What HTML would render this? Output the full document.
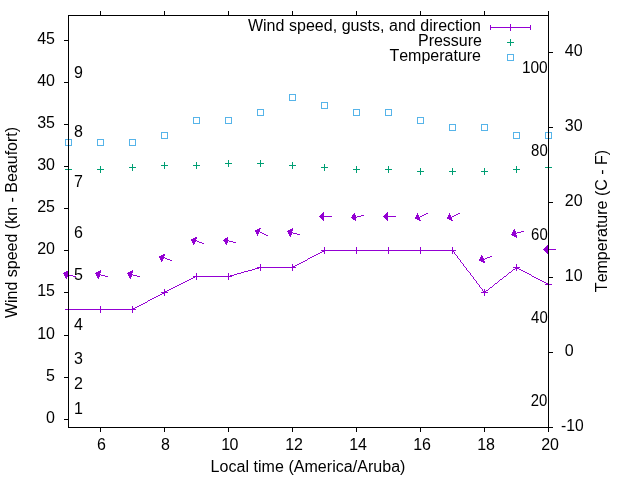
<!DOCTYPE html>
<html><head><meta charset="utf-8"><title>Wind forecast</title>
<style>
html,body{margin:0;padding:0;background:#fff;}
body{width:640px;height:480px;overflow:hidden;}
svg{display:block;will-change:transform;mix-blend-mode:multiply;}
text{font-family:"Liberation Sans",sans-serif;font-size:16px;fill:#000;font-kerning:none;}
</style></head>
<body>
<svg width="640" height="480" viewBox="0 0 640 480">
<rect x="0" y="0" width="640" height="480" fill="#ffffff"/>
<g shape-rendering="crispEdges">
<path fill="#9400D3" d="M510 24h1v1h-1zM490 25h1v1h-1zM510 25h1v1h-1zM530 25h1v1h-1zM490 26h1v1h-1zM510 26h1v1h-1zM530 26h1v1h-1zM490 27h41v1h-41zM490 28h1v1h-1zM510 28h1v1h-1zM530 28h1v1h-1zM490 29h1v1h-1zM510 29h1v1h-1zM530 29h1v1h-1zM510 30h1v1h-1zM323 212h1v1h-1zM387 212h1v1h-1zM322 213h2v1h-2zM354 213h1v1h-1zM386 213h2v1h-2zM417 213h1v1h-1zM426 213h2v1h-2zM449 213h1v1h-1zM458 213h2v1h-2zM321 214h3v1h-3zM353 214h2v1h-2zM385 214h3v1h-3zM417 214h1v1h-1zM424 214h2v1h-2zM449 214h1v1h-1zM456 214h2v1h-2zM320 215h4v1h-4zM352 215h4v1h-4zM361 215h3v1h-3zM384 215h4v1h-4zM416 215h3v1h-3zM422 215h2v1h-2zM448 215h3v1h-3zM454 215h2v1h-2zM319 216h13v1h-13zM352 216h4v1h-4zM357 216h4v1h-4zM383 216h13v1h-13zM416 216h3v1h-3zM420 216h2v1h-2zM448 216h3v1h-3zM452 216h2v1h-2zM320 217h4v1h-4zM351 217h6v1h-6zM384 217h4v1h-4zM415 217h5v1h-5zM447 217h5v1h-5zM321 218h3v1h-3zM352 218h4v1h-4zM385 218h3v1h-3zM415 218h5v1h-5zM447 218h5v1h-5zM322 219h2v1h-2zM353 219h3v1h-3zM386 219h2v1h-2zM417 219h3v1h-3zM449 219h3v1h-3zM323 220h1v1h-1zM355 220h1v1h-1zM387 220h1v1h-1zM419 220h2v1h-2zM451 220h2v1h-2zM259 228h2v1h-2zM292 228h1v1h-1zM257 229h3v1h-3zM290 229h3v1h-3zM514 229h1v1h-1zM255 230h5v1h-5zM288 230h5v1h-5zM513 230h2v1h-2zM255 231h5v1h-5zM287 231h5v1h-5zM513 231h3v1h-3zM521 231h3v1h-3zM256 232h3v1h-3zM260 232h2v1h-2zM288 232h5v1h-5zM512 232h4v1h-4zM517 232h4v1h-4zM256 233h3v1h-3zM262 233h2v1h-2zM288 233h4v1h-4zM293 233h4v1h-4zM512 233h5v1h-5zM257 234h1v1h-1zM264 234h2v1h-2zM289 234h3v1h-3zM297 234h3v1h-3zM511 234h5v1h-5zM257 235h1v1h-1zM266 235h2v1h-2zM289 235h2v1h-2zM512 235h5v1h-5zM290 236h1v1h-1zM514 236h3v1h-3zM195 237h2v1h-2zM227 237h1v1h-1zM516 237h1v1h-1zM193 238h4v1h-4zM225 238h3v1h-3zM191 239h5v1h-5zM224 239h4v1h-4zM191 240h6v1h-6zM223 240h6v1h-6zM192 241h4v1h-4zM197 241h2v1h-2zM224 241h4v1h-4zM229 241h4v1h-4zM192 242h3v1h-3zM199 242h3v1h-3zM225 242h3v1h-3zM233 242h3v1h-3zM193 243h2v1h-2zM202 243h2v1h-2zM225 243h2v1h-2zM193 244h1v1h-1zM226 244h1v1h-1zM547 245h1v1h-1zM546 246h2v1h-2zM324 247h1v1h-1zM356 247h1v1h-1zM388 247h1v1h-1zM420 247h1v1h-1zM452 247h1v1h-1zM545 247h3v1h-3zM324 248h1v1h-1zM356 248h1v1h-1zM388 248h1v1h-1zM420 248h1v1h-1zM452 248h1v1h-1zM544 248h4v1h-4zM324 249h1v1h-1zM356 249h1v1h-1zM388 249h1v1h-1zM420 249h1v1h-1zM452 249h1v1h-1zM543 249h13v1h-13zM321 250h135v1h-135zM544 250h4v1h-4zM322 251h3v1h-3zM356 251h1v1h-1zM388 251h1v1h-1zM420 251h1v1h-1zM452 251h2v1h-2zM545 251h3v1h-3zM320 252h2v1h-2zM324 252h1v1h-1zM356 252h1v1h-1zM388 252h1v1h-1zM420 252h1v1h-1zM452 252h1v1h-1zM454 252h1v1h-1zM546 252h2v1h-2zM318 253h2v1h-2zM324 253h1v1h-1zM356 253h1v1h-1zM388 253h1v1h-1zM420 253h1v1h-1zM452 253h1v1h-1zM454 253h1v1h-1zM547 253h1v1h-1zM163 254h2v1h-2zM316 254h2v1h-2zM455 254h1v1h-1zM161 255h4v1h-4zM314 255h2v1h-2zM456 255h1v1h-1zM481 255h1v1h-1zM159 256h5v1h-5zM312 256h2v1h-2zM457 256h1v1h-1zM481 256h2v1h-2zM490 256h2v1h-2zM159 257h6v1h-6zM310 257h2v1h-2zM457 257h1v1h-1zM480 257h3v1h-3zM487 257h3v1h-3zM160 258h4v1h-4zM165 258h2v1h-2zM308 258h2v1h-2zM458 258h1v1h-1zM480 258h4v1h-4zM485 258h2v1h-2zM160 259h3v1h-3zM167 259h3v1h-3zM307 259h1v1h-1zM459 259h1v1h-1zM479 259h6v1h-6zM161 260h2v1h-2zM170 260h2v1h-2zM305 260h2v1h-2zM460 260h1v1h-1zM479 260h5v1h-5zM161 261h1v1h-1zM303 261h2v1h-2zM460 261h1v1h-1zM481 261h4v1h-4zM301 262h2v1h-2zM461 262h1v1h-1zM483 262h2v1h-2zM299 263h2v1h-2zM462 263h1v1h-1zM260 264h1v1h-1zM292 264h1v1h-1zM297 264h2v1h-2zM463 264h1v1h-1zM516 264h1v1h-1zM260 265h1v1h-1zM292 265h1v1h-1zM295 265h2v1h-2zM463 265h1v1h-1zM516 265h1v1h-1zM260 266h1v1h-1zM292 266h3v1h-3zM464 266h1v1h-1zM516 266h1v1h-1zM257 267h39v1h-39zM465 267h1v1h-1zM513 267h7v1h-7zM255 268h4v1h-4zM260 268h1v1h-1zM292 268h1v1h-1zM466 268h1v1h-1zM515 268h4v1h-4zM252 269h3v1h-3zM260 269h1v1h-1zM292 269h1v1h-1zM466 269h1v1h-1zM513 269h2v1h-2zM516 269h1v1h-1zM519 269h2v1h-2zM68 270h1v1h-1zM100 270h1v1h-1zM132 270h1v1h-1zM248 270h4v1h-4zM260 270h1v1h-1zM292 270h1v1h-1zM467 270h1v1h-1zM512 270h1v1h-1zM516 270h1v1h-1zM521 270h2v1h-2zM66 271h3v1h-3zM98 271h3v1h-3zM130 271h3v1h-3zM244 271h4v1h-4zM468 271h1v1h-1zM511 271h1v1h-1zM523 271h2v1h-2zM64 272h5v1h-5zM96 272h5v1h-5zM128 272h5v1h-5zM241 272h3v1h-3zM469 272h1v1h-1zM509 272h2v1h-2zM525 272h2v1h-2zM63 273h5v1h-5zM95 273h5v1h-5zM127 273h5v1h-5zM196 273h1v1h-1zM228 273h1v1h-1zM237 273h4v1h-4zM470 273h1v1h-1zM508 273h1v1h-1zM527 273h2v1h-2zM64 274h5v1h-5zM96 274h5v1h-5zM128 274h5v1h-5zM196 274h1v1h-1zM228 274h1v1h-1zM234 274h3v1h-3zM470 274h1v1h-1zM507 274h1v1h-1zM529 274h2v1h-2zM64 275h4v1h-4zM69 275h4v1h-4zM96 275h4v1h-4zM101 275h4v1h-4zM128 275h4v1h-4zM133 275h4v1h-4zM196 275h1v1h-1zM228 275h1v1h-1zM230 275h4v1h-4zM471 275h1v1h-1zM506 275h1v1h-1zM531 275h1v1h-1zM65 276h3v1h-3zM73 276h3v1h-3zM97 276h3v1h-3zM105 276h3v1h-3zM129 276h3v1h-3zM137 276h3v1h-3zM193 276h39v1h-39zM472 276h1v1h-1zM504 276h2v1h-2zM532 276h2v1h-2zM65 277h2v1h-2zM97 277h2v1h-2zM129 277h2v1h-2zM193 277h2v1h-2zM196 277h1v1h-1zM228 277h1v1h-1zM473 277h1v1h-1zM503 277h1v1h-1zM534 277h2v1h-2zM66 278h1v1h-1zM98 278h1v1h-1zM130 278h1v1h-1zM191 278h2v1h-2zM196 278h1v1h-1zM228 278h1v1h-1zM473 278h1v1h-1zM502 278h1v1h-1zM536 278h2v1h-2zM189 279h2v1h-2zM196 279h1v1h-1zM228 279h1v1h-1zM474 279h1v1h-1zM500 279h2v1h-2zM538 279h2v1h-2zM187 280h2v1h-2zM475 280h1v1h-1zM499 280h1v1h-1zM540 280h2v1h-2zM185 281h2v1h-2zM476 281h1v1h-1zM498 281h1v1h-1zM542 281h2v1h-2zM548 281h1v1h-1zM183 282h2v1h-2zM476 282h1v1h-1zM497 282h1v1h-1zM544 282h2v1h-2zM548 282h1v1h-1zM181 283h2v1h-2zM477 283h1v1h-1zM495 283h2v1h-2zM546 283h3v1h-3zM179 284h2v1h-2zM478 284h1v1h-1zM494 284h1v1h-1zM545 284h7v1h-7zM177 285h2v1h-2zM479 285h1v1h-1zM493 285h1v1h-1zM548 285h1v1h-1zM175 286h2v1h-2zM479 286h1v1h-1zM492 286h1v1h-1zM548 286h1v1h-1zM173 287h2v1h-2zM480 287h1v1h-1zM490 287h2v1h-2zM548 287h1v1h-1zM171 288h2v1h-2zM481 288h1v1h-1zM489 288h1v1h-1zM164 289h1v1h-1zM169 289h2v1h-2zM482 289h1v1h-1zM484 289h1v1h-1zM488 289h1v1h-1zM164 290h1v1h-1zM167 290h2v1h-2zM482 290h1v1h-1zM484 290h1v1h-1zM486 290h2v1h-2zM164 291h3v1h-3zM483 291h3v1h-3zM161 292h7v1h-7zM481 292h7v1h-7zM162 293h3v1h-3zM484 293h1v1h-1zM160 294h2v1h-2zM164 294h1v1h-1zM484 294h1v1h-1zM158 295h2v1h-2zM164 295h1v1h-1zM484 295h1v1h-1zM156 296h2v1h-2zM154 297h2v1h-2zM152 298h2v1h-2zM150 299h2v1h-2zM148 300h2v1h-2zM147 301h1v1h-1zM145 302h2v1h-2zM143 303h2v1h-2zM141 304h2v1h-2zM139 305h2v1h-2zM68 306h1v1h-1zM100 306h1v1h-1zM132 306h1v1h-1zM137 306h2v1h-2zM68 307h1v1h-1zM100 307h1v1h-1zM132 307h1v1h-1zM135 307h2v1h-2zM68 308h1v1h-1zM100 308h1v1h-1zM132 308h3v1h-3zM65 309h71v1h-71zM68 310h1v1h-1zM100 310h1v1h-1zM132 310h1v1h-1zM68 311h1v1h-1zM100 311h1v1h-1zM132 311h1v1h-1zM68 312h1v1h-1zM100 312h1v1h-1zM132 312h1v1h-1z"/>
<path fill="#009E73" d="M510 39h1v1h-1zM510 40h1v1h-1zM510 41h1v1h-1zM507 42h7v1h-7zM510 43h1v1h-1zM510 44h1v1h-1zM510 45h1v1h-1zM228 160h1v1h-1zM260 160h1v1h-1zM228 161h1v1h-1zM260 161h1v1h-1zM164 162h1v1h-1zM196 162h1v1h-1zM228 162h1v1h-1zM260 162h1v1h-1zM292 162h1v1h-1zM164 163h1v1h-1zM196 163h1v1h-1zM225 163h7v1h-7zM257 163h7v1h-7zM292 163h1v1h-1zM132 164h1v1h-1zM164 164h1v1h-1zM196 164h1v1h-1zM228 164h1v1h-1zM260 164h1v1h-1zM292 164h1v1h-1zM324 164h1v1h-1zM548 164h1v1h-1zM132 165h1v1h-1zM161 165h7v1h-7zM193 165h7v1h-7zM228 165h1v1h-1zM260 165h1v1h-1zM289 165h7v1h-7zM324 165h1v1h-1zM548 165h1v1h-1zM68 166h1v1h-1zM100 166h1v1h-1zM132 166h1v1h-1zM164 166h1v1h-1zM196 166h1v1h-1zM228 166h1v1h-1zM260 166h1v1h-1zM292 166h1v1h-1zM324 166h1v1h-1zM356 166h1v1h-1zM388 166h1v1h-1zM516 166h1v1h-1zM548 166h1v1h-1zM68 167h1v1h-1zM100 167h1v1h-1zM129 167h7v1h-7zM164 167h1v1h-1zM196 167h1v1h-1zM292 167h1v1h-1zM321 167h7v1h-7zM356 167h1v1h-1zM388 167h1v1h-1zM516 167h1v1h-1zM545 167h7v1h-7zM68 168h1v1h-1zM100 168h1v1h-1zM132 168h1v1h-1zM164 168h1v1h-1zM196 168h1v1h-1zM292 168h1v1h-1zM324 168h1v1h-1zM356 168h1v1h-1zM388 168h1v1h-1zM420 168h1v1h-1zM452 168h1v1h-1zM484 168h1v1h-1zM516 168h1v1h-1zM548 168h1v1h-1zM65 169h7v1h-7zM97 169h7v1h-7zM132 169h1v1h-1zM324 169h1v1h-1zM353 169h7v1h-7zM385 169h7v1h-7zM420 169h1v1h-1zM452 169h1v1h-1zM484 169h1v1h-1zM513 169h7v1h-7zM548 169h1v1h-1zM68 170h1v1h-1zM100 170h1v1h-1zM132 170h1v1h-1zM324 170h1v1h-1zM356 170h1v1h-1zM388 170h1v1h-1zM420 170h1v1h-1zM452 170h1v1h-1zM484 170h1v1h-1zM516 170h1v1h-1zM548 170h1v1h-1zM68 171h1v1h-1zM100 171h1v1h-1zM356 171h1v1h-1zM388 171h1v1h-1zM417 171h7v1h-7zM449 171h7v1h-7zM481 171h7v1h-7zM516 171h1v1h-1zM68 172h1v1h-1zM100 172h1v1h-1zM356 172h1v1h-1zM388 172h1v1h-1zM420 172h1v1h-1zM452 172h1v1h-1zM484 172h1v1h-1zM516 172h1v1h-1zM420 173h1v1h-1zM452 173h1v1h-1zM484 173h1v1h-1zM420 174h1v1h-1zM452 174h1v1h-1zM484 174h1v1h-1z"/>
<path fill="#56B4E9" d="M507 54h7v1h-7zM507 55h1v1h-1zM513 55h1v1h-1zM507 56h1v1h-1zM513 56h1v1h-1zM507 57h1v1h-1zM513 57h1v1h-1zM507 58h1v1h-1zM513 58h1v1h-1zM507 59h1v1h-1zM513 59h1v1h-1zM507 60h7v1h-7zM289 94h7v1h-7zM289 95h1v1h-1zM295 95h1v1h-1zM289 96h1v1h-1zM295 96h1v1h-1zM289 97h1v1h-1zM295 97h1v1h-1zM289 98h1v1h-1zM295 98h1v1h-1zM289 99h1v1h-1zM295 99h1v1h-1zM289 100h7v1h-7zM321 102h7v1h-7zM321 103h1v1h-1zM327 103h1v1h-1zM321 104h1v1h-1zM327 104h1v1h-1zM321 105h1v1h-1zM327 105h1v1h-1zM321 106h1v1h-1zM327 106h1v1h-1zM321 107h1v1h-1zM327 107h1v1h-1zM321 108h7v1h-7zM257 109h7v1h-7zM353 109h7v1h-7zM385 109h7v1h-7zM257 110h1v1h-1zM263 110h1v1h-1zM353 110h1v1h-1zM359 110h1v1h-1zM385 110h1v1h-1zM391 110h1v1h-1zM257 111h1v1h-1zM263 111h1v1h-1zM353 111h1v1h-1zM359 111h1v1h-1zM385 111h1v1h-1zM391 111h1v1h-1zM257 112h1v1h-1zM263 112h1v1h-1zM353 112h1v1h-1zM359 112h1v1h-1zM385 112h1v1h-1zM391 112h1v1h-1zM257 113h1v1h-1zM263 113h1v1h-1zM353 113h1v1h-1zM359 113h1v1h-1zM385 113h1v1h-1zM391 113h1v1h-1zM257 114h1v1h-1zM263 114h1v1h-1zM353 114h1v1h-1zM359 114h1v1h-1zM385 114h1v1h-1zM391 114h1v1h-1zM257 115h7v1h-7zM353 115h7v1h-7zM385 115h7v1h-7zM193 117h7v1h-7zM225 117h7v1h-7zM417 117h7v1h-7zM193 118h1v1h-1zM199 118h1v1h-1zM225 118h1v1h-1zM231 118h1v1h-1zM417 118h1v1h-1zM423 118h1v1h-1zM193 119h1v1h-1zM199 119h1v1h-1zM225 119h1v1h-1zM231 119h1v1h-1zM417 119h1v1h-1zM423 119h1v1h-1zM193 120h1v1h-1zM199 120h1v1h-1zM225 120h1v1h-1zM231 120h1v1h-1zM417 120h1v1h-1zM423 120h1v1h-1zM193 121h1v1h-1zM199 121h1v1h-1zM225 121h1v1h-1zM231 121h1v1h-1zM417 121h1v1h-1zM423 121h1v1h-1zM193 122h1v1h-1zM199 122h1v1h-1zM225 122h1v1h-1zM231 122h1v1h-1zM417 122h1v1h-1zM423 122h1v1h-1zM193 123h7v1h-7zM225 123h7v1h-7zM417 123h7v1h-7zM449 124h7v1h-7zM481 124h7v1h-7zM449 125h1v1h-1zM455 125h1v1h-1zM481 125h1v1h-1zM487 125h1v1h-1zM449 126h1v1h-1zM455 126h1v1h-1zM481 126h1v1h-1zM487 126h1v1h-1zM449 127h1v1h-1zM455 127h1v1h-1zM481 127h1v1h-1zM487 127h1v1h-1zM449 128h1v1h-1zM455 128h1v1h-1zM481 128h1v1h-1zM487 128h1v1h-1zM449 129h1v1h-1zM455 129h1v1h-1zM481 129h1v1h-1zM487 129h1v1h-1zM449 130h7v1h-7zM481 130h7v1h-7zM161 132h7v1h-7zM513 132h7v1h-7zM545 132h7v1h-7zM161 133h1v1h-1zM167 133h1v1h-1zM513 133h1v1h-1zM519 133h1v1h-1zM545 133h1v1h-1zM551 133h1v1h-1zM161 134h1v1h-1zM167 134h1v1h-1zM513 134h1v1h-1zM519 134h1v1h-1zM545 134h1v1h-1zM551 134h1v1h-1zM161 135h1v1h-1zM167 135h1v1h-1zM513 135h1v1h-1zM519 135h1v1h-1zM545 135h1v1h-1zM551 135h1v1h-1zM161 136h1v1h-1zM167 136h1v1h-1zM513 136h1v1h-1zM519 136h1v1h-1zM545 136h1v1h-1zM551 136h1v1h-1zM161 137h1v1h-1zM167 137h1v1h-1zM513 137h1v1h-1zM519 137h1v1h-1zM545 137h1v1h-1zM551 137h1v1h-1zM161 138h7v1h-7zM513 138h7v1h-7zM545 138h7v1h-7zM65 139h7v1h-7zM97 139h7v1h-7zM129 139h7v1h-7zM65 140h1v1h-1zM71 140h1v1h-1zM97 140h1v1h-1zM103 140h1v1h-1zM129 140h1v1h-1zM135 140h1v1h-1zM65 141h1v1h-1zM71 141h1v1h-1zM97 141h1v1h-1zM103 141h1v1h-1zM129 141h1v1h-1zM135 141h1v1h-1zM65 142h1v1h-1zM71 142h1v1h-1zM97 142h1v1h-1zM103 142h1v1h-1zM129 142h1v1h-1zM135 142h1v1h-1zM65 143h1v1h-1zM71 143h1v1h-1zM97 143h1v1h-1zM103 143h1v1h-1zM129 143h1v1h-1zM135 143h1v1h-1zM65 144h1v1h-1zM71 144h1v1h-1zM97 144h1v1h-1zM103 144h1v1h-1zM129 144h1v1h-1zM135 144h1v1h-1zM65 145h7v1h-7zM97 145h7v1h-7zM129 145h7v1h-7z"/>
<path fill="#000000" d="M100 11h1v1h-1zM164 11h1v1h-1zM228 11h1v1h-1zM292 11h1v1h-1zM356 11h1v1h-1zM420 11h1v1h-1zM484 11h1v1h-1zM548 11h1v1h-1zM100 12h1v1h-1zM164 12h1v1h-1zM228 12h1v1h-1zM292 12h1v1h-1zM356 12h1v1h-1zM420 12h1v1h-1zM484 12h1v1h-1zM548 12h1v1h-1zM100 13h1v1h-1zM164 13h1v1h-1zM228 13h1v1h-1zM292 13h1v1h-1zM356 13h1v1h-1zM420 13h1v1h-1zM484 13h1v1h-1zM548 13h1v1h-1zM100 14h1v1h-1zM164 14h1v1h-1zM228 14h1v1h-1zM292 14h1v1h-1zM356 14h1v1h-1zM420 14h1v1h-1zM484 14h1v1h-1zM548 14h1v1h-1zM68 15h481v1h-481zM68 16h1v1h-1zM548 16h1v1h-1zM68 17h1v1h-1zM548 17h1v1h-1zM68 18h1v1h-1zM548 18h1v1h-1zM68 19h1v1h-1zM548 19h1v1h-1zM68 20h1v1h-1zM548 20h1v1h-1zM68 21h1v1h-1zM548 21h1v1h-1zM68 22h1v1h-1zM548 22h1v1h-1zM68 23h1v1h-1zM548 23h1v1h-1zM68 24h1v1h-1zM548 24h1v1h-1zM68 25h1v1h-1zM548 25h1v1h-1zM68 26h1v1h-1zM548 26h1v1h-1zM68 27h1v1h-1zM548 27h1v1h-1zM68 28h1v1h-1zM548 28h1v1h-1zM68 29h1v1h-1zM548 29h1v1h-1zM68 30h1v1h-1zM548 30h1v1h-1zM68 31h1v1h-1zM548 31h1v1h-1zM68 32h1v1h-1zM548 32h1v1h-1zM68 33h1v1h-1zM548 33h1v1h-1zM68 34h1v1h-1zM548 34h1v1h-1zM68 35h1v1h-1zM548 35h1v1h-1zM68 36h1v1h-1zM548 36h1v1h-1zM68 37h1v1h-1zM548 37h1v1h-1zM68 38h1v1h-1zM548 38h1v1h-1zM68 39h1v1h-1zM548 39h1v1h-1zM64 40h5v1h-5zM548 40h1v1h-1zM68 41h1v1h-1zM548 41h1v1h-1zM68 42h1v1h-1zM548 42h1v1h-1zM68 43h1v1h-1zM548 43h1v1h-1zM68 44h1v1h-1zM548 44h1v1h-1zM68 45h1v1h-1zM548 45h1v1h-1zM68 46h1v1h-1zM548 46h1v1h-1zM68 47h1v1h-1zM548 47h1v1h-1zM68 48h1v1h-1zM548 48h1v1h-1zM68 49h1v1h-1zM548 49h1v1h-1zM68 50h1v1h-1zM548 50h1v1h-1zM68 51h1v1h-1zM548 51h1v1h-1zM68 52h1v1h-1zM548 52h5v1h-5zM68 53h1v1h-1zM548 53h1v1h-1zM68 54h1v1h-1zM548 54h1v1h-1zM68 55h1v1h-1zM548 55h1v1h-1zM68 56h1v1h-1zM548 56h1v1h-1zM68 57h1v1h-1zM548 57h1v1h-1zM68 58h1v1h-1zM548 58h1v1h-1zM68 59h1v1h-1zM548 59h1v1h-1zM68 60h1v1h-1zM548 60h1v1h-1zM68 61h1v1h-1zM548 61h1v1h-1zM68 62h1v1h-1zM548 62h1v1h-1zM68 63h1v1h-1zM548 63h1v1h-1zM68 64h1v1h-1zM548 64h1v1h-1zM68 65h1v1h-1zM548 65h1v1h-1zM68 66h1v1h-1zM548 66h1v1h-1zM68 67h1v1h-1zM548 67h1v1h-1zM68 68h1v1h-1zM548 68h1v1h-1zM68 69h1v1h-1zM548 69h1v1h-1zM68 70h1v1h-1zM548 70h1v1h-1zM68 71h1v1h-1zM548 71h1v1h-1zM68 72h1v1h-1zM548 72h1v1h-1zM68 73h1v1h-1zM548 73h1v1h-1zM68 74h1v1h-1zM548 74h1v1h-1zM68 75h1v1h-1zM548 75h1v1h-1zM68 76h1v1h-1zM548 76h1v1h-1zM68 77h1v1h-1zM548 77h1v1h-1zM68 78h1v1h-1zM548 78h1v1h-1zM68 79h1v1h-1zM548 79h1v1h-1zM68 80h1v1h-1zM548 80h1v1h-1zM68 81h1v1h-1zM548 81h1v1h-1zM64 82h5v1h-5zM548 82h1v1h-1zM68 83h1v1h-1zM548 83h1v1h-1zM68 84h1v1h-1zM548 84h1v1h-1zM68 85h1v1h-1zM548 85h1v1h-1zM68 86h1v1h-1zM548 86h1v1h-1zM68 87h1v1h-1zM548 87h1v1h-1zM68 88h1v1h-1zM548 88h1v1h-1zM68 89h1v1h-1zM548 89h1v1h-1zM68 90h1v1h-1zM548 90h1v1h-1zM68 91h1v1h-1zM548 91h1v1h-1zM68 92h1v1h-1zM548 92h1v1h-1zM68 93h1v1h-1zM548 93h1v1h-1zM68 94h1v1h-1zM548 94h1v1h-1zM68 95h1v1h-1zM548 95h1v1h-1zM68 96h1v1h-1zM548 96h1v1h-1zM68 97h1v1h-1zM548 97h1v1h-1zM68 98h1v1h-1zM548 98h1v1h-1zM68 99h1v1h-1zM548 99h1v1h-1zM68 100h1v1h-1zM548 100h1v1h-1zM68 101h1v1h-1zM548 101h1v1h-1zM68 102h1v1h-1zM548 102h1v1h-1zM68 103h1v1h-1zM548 103h1v1h-1zM68 104h1v1h-1zM548 104h1v1h-1zM68 105h1v1h-1zM548 105h1v1h-1zM68 106h1v1h-1zM548 106h1v1h-1zM68 107h1v1h-1zM548 107h1v1h-1zM68 108h1v1h-1zM548 108h1v1h-1zM68 109h1v1h-1zM548 109h1v1h-1zM68 110h1v1h-1zM548 110h1v1h-1zM68 111h1v1h-1zM548 111h1v1h-1zM68 112h1v1h-1zM548 112h1v1h-1zM68 113h1v1h-1zM548 113h1v1h-1zM68 114h1v1h-1zM548 114h1v1h-1zM68 115h1v1h-1zM548 115h1v1h-1zM68 116h1v1h-1zM548 116h1v1h-1zM68 117h1v1h-1zM548 117h1v1h-1zM68 118h1v1h-1zM548 118h1v1h-1zM68 119h1v1h-1zM548 119h1v1h-1zM68 120h1v1h-1zM548 120h1v1h-1zM68 121h1v1h-1zM548 121h1v1h-1zM68 122h1v1h-1zM548 122h1v1h-1zM68 123h1v1h-1zM548 123h1v1h-1zM64 124h5v1h-5zM548 124h1v1h-1zM68 125h1v1h-1zM548 125h1v1h-1zM68 126h1v1h-1zM548 126h1v1h-1zM68 127h1v1h-1zM548 127h5v1h-5zM68 128h1v1h-1zM548 128h1v1h-1zM68 129h1v1h-1zM548 129h1v1h-1zM68 130h1v1h-1zM548 130h1v1h-1zM68 131h1v1h-1zM548 131h1v1h-1zM68 132h1v1h-1zM548 132h1v1h-1zM68 133h1v1h-1zM548 133h1v1h-1zM68 134h1v1h-1zM548 134h1v1h-1zM68 135h1v1h-1zM548 135h1v1h-1zM68 136h1v1h-1zM548 136h1v1h-1zM68 137h1v1h-1zM548 137h1v1h-1zM68 138h1v1h-1zM548 138h1v1h-1zM68 139h1v1h-1zM548 139h1v1h-1zM68 140h1v1h-1zM548 140h1v1h-1zM68 141h1v1h-1zM548 141h1v1h-1zM68 142h1v1h-1zM548 142h1v1h-1zM68 143h1v1h-1zM548 143h1v1h-1zM68 144h1v1h-1zM548 144h1v1h-1zM68 145h1v1h-1zM548 145h1v1h-1zM68 146h1v1h-1zM548 146h1v1h-1zM68 147h1v1h-1zM548 147h1v1h-1zM68 148h1v1h-1zM548 148h1v1h-1zM68 149h1v1h-1zM548 149h1v1h-1zM68 150h1v1h-1zM548 150h1v1h-1zM68 151h1v1h-1zM548 151h1v1h-1zM68 152h1v1h-1zM548 152h1v1h-1zM68 153h1v1h-1zM548 153h1v1h-1zM68 154h1v1h-1zM548 154h1v1h-1zM68 155h1v1h-1zM548 155h1v1h-1zM68 156h1v1h-1zM548 156h1v1h-1zM68 157h1v1h-1zM548 157h1v1h-1zM68 158h1v1h-1zM548 158h1v1h-1zM68 159h1v1h-1zM548 159h1v1h-1zM68 160h1v1h-1zM548 160h1v1h-1zM68 161h1v1h-1zM548 161h1v1h-1zM68 162h1v1h-1zM548 162h1v1h-1zM68 163h1v1h-1zM548 163h1v1h-1zM68 164h1v1h-1zM548 164h1v1h-1zM68 165h1v1h-1zM548 165h1v1h-1zM64 166h5v1h-5zM548 166h1v1h-1zM68 167h1v1h-1zM548 167h1v1h-1zM68 168h1v1h-1zM548 168h1v1h-1zM68 169h1v1h-1zM548 169h1v1h-1zM68 170h1v1h-1zM548 170h1v1h-1zM68 171h1v1h-1zM548 171h1v1h-1zM68 172h1v1h-1zM548 172h1v1h-1zM68 173h1v1h-1zM548 173h1v1h-1zM68 174h1v1h-1zM548 174h1v1h-1zM68 175h1v1h-1zM548 175h1v1h-1zM68 176h1v1h-1zM548 176h1v1h-1zM68 177h1v1h-1zM548 177h1v1h-1zM68 178h1v1h-1zM548 178h1v1h-1zM68 179h1v1h-1zM548 179h1v1h-1zM68 180h1v1h-1zM548 180h1v1h-1zM68 181h1v1h-1zM548 181h1v1h-1zM68 182h1v1h-1zM548 182h1v1h-1zM68 183h1v1h-1zM548 183h1v1h-1zM68 184h1v1h-1zM548 184h1v1h-1zM68 185h1v1h-1zM548 185h1v1h-1zM68 186h1v1h-1zM548 186h1v1h-1zM68 187h1v1h-1zM548 187h1v1h-1zM68 188h1v1h-1zM548 188h1v1h-1zM68 189h1v1h-1zM548 189h1v1h-1zM68 190h1v1h-1zM548 190h1v1h-1zM68 191h1v1h-1zM548 191h1v1h-1zM68 192h1v1h-1zM548 192h1v1h-1zM68 193h1v1h-1zM548 193h1v1h-1zM68 194h1v1h-1zM548 194h1v1h-1zM68 195h1v1h-1zM548 195h1v1h-1zM68 196h1v1h-1zM548 196h1v1h-1zM68 197h1v1h-1zM548 197h1v1h-1zM68 198h1v1h-1zM548 198h1v1h-1zM68 199h1v1h-1zM548 199h1v1h-1zM68 200h1v1h-1zM548 200h1v1h-1zM68 201h1v1h-1zM548 201h1v1h-1zM68 202h1v1h-1zM548 202h5v1h-5zM68 203h1v1h-1zM548 203h1v1h-1zM68 204h1v1h-1zM548 204h1v1h-1zM68 205h1v1h-1zM548 205h1v1h-1zM68 206h1v1h-1zM548 206h1v1h-1zM68 207h1v1h-1zM548 207h1v1h-1zM64 208h5v1h-5zM548 208h1v1h-1zM68 209h1v1h-1zM548 209h1v1h-1zM68 210h1v1h-1zM548 210h1v1h-1zM68 211h1v1h-1zM548 211h1v1h-1zM68 212h1v1h-1zM548 212h1v1h-1zM68 213h1v1h-1zM548 213h1v1h-1zM68 214h1v1h-1zM548 214h1v1h-1zM68 215h1v1h-1zM548 215h1v1h-1zM68 216h1v1h-1zM548 216h1v1h-1zM68 217h1v1h-1zM548 217h1v1h-1zM68 218h1v1h-1zM548 218h1v1h-1zM68 219h1v1h-1zM548 219h1v1h-1zM68 220h1v1h-1zM548 220h1v1h-1zM68 221h1v1h-1zM548 221h1v1h-1zM68 222h1v1h-1zM548 222h1v1h-1zM68 223h1v1h-1zM548 223h1v1h-1zM68 224h1v1h-1zM548 224h1v1h-1zM68 225h1v1h-1zM548 225h1v1h-1zM68 226h1v1h-1zM548 226h1v1h-1zM68 227h1v1h-1zM548 227h1v1h-1zM68 228h1v1h-1zM548 228h1v1h-1zM68 229h1v1h-1zM548 229h1v1h-1zM68 230h1v1h-1zM548 230h1v1h-1zM68 231h1v1h-1zM548 231h1v1h-1zM68 232h1v1h-1zM548 232h1v1h-1zM68 233h1v1h-1zM548 233h1v1h-1zM68 234h1v1h-1zM548 234h1v1h-1zM68 235h1v1h-1zM548 235h1v1h-1zM68 236h1v1h-1zM548 236h1v1h-1zM68 237h1v1h-1zM548 237h1v1h-1zM68 238h1v1h-1zM548 238h1v1h-1zM68 239h1v1h-1zM548 239h1v1h-1zM68 240h1v1h-1zM548 240h1v1h-1zM68 241h1v1h-1zM548 241h1v1h-1zM68 242h1v1h-1zM548 242h1v1h-1zM68 243h1v1h-1zM548 243h1v1h-1zM68 244h1v1h-1zM548 244h1v1h-1zM68 245h1v1h-1zM548 245h1v1h-1zM68 246h1v1h-1zM548 246h1v1h-1zM68 247h1v1h-1zM548 247h1v1h-1zM68 248h1v1h-1zM548 248h1v1h-1zM68 249h1v1h-1zM548 249h1v1h-1zM64 250h5v1h-5zM548 250h1v1h-1zM68 251h1v1h-1zM548 251h1v1h-1zM68 252h1v1h-1zM548 252h1v1h-1zM68 253h1v1h-1zM548 253h1v1h-1zM68 254h1v1h-1zM548 254h1v1h-1zM68 255h1v1h-1zM548 255h1v1h-1zM68 256h1v1h-1zM548 256h1v1h-1zM68 257h1v1h-1zM548 257h1v1h-1zM68 258h1v1h-1zM548 258h1v1h-1zM68 259h1v1h-1zM548 259h1v1h-1zM68 260h1v1h-1zM548 260h1v1h-1zM68 261h1v1h-1zM548 261h1v1h-1zM68 262h1v1h-1zM548 262h1v1h-1zM68 263h1v1h-1zM548 263h1v1h-1zM68 264h1v1h-1zM548 264h1v1h-1zM68 265h1v1h-1zM548 265h1v1h-1zM68 266h1v1h-1zM548 266h1v1h-1zM68 267h1v1h-1zM548 267h1v1h-1zM68 268h1v1h-1zM548 268h1v1h-1zM68 269h1v1h-1zM548 269h1v1h-1zM68 270h1v1h-1zM548 270h1v1h-1zM68 271h1v1h-1zM548 271h1v1h-1zM68 272h1v1h-1zM548 272h1v1h-1zM68 273h1v1h-1zM548 273h1v1h-1zM68 274h1v1h-1zM548 274h1v1h-1zM68 275h1v1h-1zM548 275h1v1h-1zM68 276h1v1h-1zM548 276h1v1h-1zM68 277h1v1h-1zM548 277h5v1h-5zM68 278h1v1h-1zM548 278h1v1h-1zM68 279h1v1h-1zM548 279h1v1h-1zM68 280h1v1h-1zM548 280h1v1h-1zM68 281h1v1h-1zM548 281h1v1h-1zM68 282h1v1h-1zM548 282h1v1h-1zM68 283h1v1h-1zM548 283h1v1h-1zM68 284h1v1h-1zM548 284h1v1h-1zM68 285h1v1h-1zM548 285h1v1h-1zM68 286h1v1h-1zM548 286h1v1h-1zM68 287h1v1h-1zM548 287h1v1h-1zM68 288h1v1h-1zM548 288h1v1h-1zM68 289h1v1h-1zM548 289h1v1h-1zM68 290h1v1h-1zM548 290h1v1h-1zM68 291h1v1h-1zM548 291h1v1h-1zM64 292h5v1h-5zM548 292h1v1h-1zM68 293h1v1h-1zM548 293h1v1h-1zM68 294h1v1h-1zM548 294h1v1h-1zM68 295h1v1h-1zM548 295h1v1h-1zM68 296h1v1h-1zM548 296h1v1h-1zM68 297h1v1h-1zM548 297h1v1h-1zM68 298h1v1h-1zM548 298h1v1h-1zM68 299h1v1h-1zM548 299h1v1h-1zM68 300h1v1h-1zM548 300h1v1h-1zM68 301h1v1h-1zM548 301h1v1h-1zM68 302h1v1h-1zM548 302h1v1h-1zM68 303h1v1h-1zM548 303h1v1h-1zM68 304h1v1h-1zM548 304h1v1h-1zM68 305h1v1h-1zM548 305h1v1h-1zM68 306h1v1h-1zM548 306h1v1h-1zM68 307h1v1h-1zM548 307h1v1h-1zM68 308h1v1h-1zM548 308h1v1h-1zM68 309h1v1h-1zM548 309h1v1h-1zM68 310h1v1h-1zM548 310h1v1h-1zM68 311h1v1h-1zM548 311h1v1h-1zM68 312h1v1h-1zM548 312h1v1h-1zM68 313h1v1h-1zM548 313h1v1h-1zM68 314h1v1h-1zM548 314h1v1h-1zM68 315h1v1h-1zM548 315h1v1h-1zM68 316h1v1h-1zM548 316h1v1h-1zM68 317h1v1h-1zM548 317h1v1h-1zM68 318h1v1h-1zM548 318h1v1h-1zM68 319h1v1h-1zM548 319h1v1h-1zM68 320h1v1h-1zM548 320h1v1h-1zM68 321h1v1h-1zM548 321h1v1h-1zM68 322h1v1h-1zM548 322h1v1h-1zM68 323h1v1h-1zM548 323h1v1h-1zM68 324h1v1h-1zM548 324h1v1h-1zM68 325h1v1h-1zM548 325h1v1h-1zM68 326h1v1h-1zM548 326h1v1h-1zM68 327h1v1h-1zM548 327h1v1h-1zM68 328h1v1h-1zM548 328h1v1h-1zM68 329h1v1h-1zM548 329h1v1h-1zM68 330h1v1h-1zM548 330h1v1h-1zM68 331h1v1h-1zM548 331h1v1h-1zM68 332h1v1h-1zM548 332h1v1h-1zM68 333h1v1h-1zM548 333h1v1h-1zM68 334h1v1h-1zM548 334h1v1h-1zM64 335h5v1h-5zM548 335h1v1h-1zM68 336h1v1h-1zM548 336h1v1h-1zM68 337h1v1h-1zM548 337h1v1h-1zM68 338h1v1h-1zM548 338h1v1h-1zM68 339h1v1h-1zM548 339h1v1h-1zM68 340h1v1h-1zM548 340h1v1h-1zM68 341h1v1h-1zM548 341h1v1h-1zM68 342h1v1h-1zM548 342h1v1h-1zM68 343h1v1h-1zM548 343h1v1h-1zM68 344h1v1h-1zM548 344h1v1h-1zM68 345h1v1h-1zM548 345h1v1h-1zM68 346h1v1h-1zM548 346h1v1h-1zM68 347h1v1h-1zM548 347h1v1h-1zM68 348h1v1h-1zM548 348h1v1h-1zM68 349h1v1h-1zM548 349h1v1h-1zM68 350h1v1h-1zM548 350h1v1h-1zM68 351h1v1h-1zM548 351h1v1h-1zM68 352h1v1h-1zM548 352h5v1h-5zM68 353h1v1h-1zM548 353h1v1h-1zM68 354h1v1h-1zM548 354h1v1h-1zM68 355h1v1h-1zM548 355h1v1h-1zM68 356h1v1h-1zM548 356h1v1h-1zM68 357h1v1h-1zM548 357h1v1h-1zM68 358h1v1h-1zM548 358h1v1h-1zM68 359h1v1h-1zM548 359h1v1h-1zM68 360h1v1h-1zM548 360h1v1h-1zM68 361h1v1h-1zM548 361h1v1h-1zM68 362h1v1h-1zM548 362h1v1h-1zM68 363h1v1h-1zM548 363h1v1h-1zM68 364h1v1h-1zM548 364h1v1h-1zM68 365h1v1h-1zM548 365h1v1h-1zM68 366h1v1h-1zM548 366h1v1h-1zM68 367h1v1h-1zM548 367h1v1h-1zM68 368h1v1h-1zM548 368h1v1h-1zM68 369h1v1h-1zM548 369h1v1h-1zM68 370h1v1h-1zM548 370h1v1h-1zM68 371h1v1h-1zM548 371h1v1h-1zM68 372h1v1h-1zM548 372h1v1h-1zM68 373h1v1h-1zM548 373h1v1h-1zM68 374h1v1h-1zM548 374h1v1h-1zM68 375h1v1h-1zM548 375h1v1h-1zM68 376h1v1h-1zM548 376h1v1h-1zM64 377h5v1h-5zM548 377h1v1h-1zM68 378h1v1h-1zM548 378h1v1h-1zM68 379h1v1h-1zM548 379h1v1h-1zM68 380h1v1h-1zM548 380h1v1h-1zM68 381h1v1h-1zM548 381h1v1h-1zM68 382h1v1h-1zM548 382h1v1h-1zM68 383h1v1h-1zM548 383h1v1h-1zM68 384h1v1h-1zM548 384h1v1h-1zM68 385h1v1h-1zM548 385h1v1h-1zM68 386h1v1h-1zM548 386h1v1h-1zM68 387h1v1h-1zM548 387h1v1h-1zM68 388h1v1h-1zM548 388h1v1h-1zM68 389h1v1h-1zM548 389h1v1h-1zM68 390h1v1h-1zM548 390h1v1h-1zM68 391h1v1h-1zM548 391h1v1h-1zM68 392h1v1h-1zM548 392h1v1h-1zM68 393h1v1h-1zM548 393h1v1h-1zM68 394h1v1h-1zM548 394h1v1h-1zM68 395h1v1h-1zM548 395h1v1h-1zM68 396h1v1h-1zM548 396h1v1h-1zM68 397h1v1h-1zM548 397h1v1h-1zM68 398h1v1h-1zM548 398h1v1h-1zM68 399h1v1h-1zM548 399h1v1h-1zM68 400h1v1h-1zM548 400h1v1h-1zM68 401h1v1h-1zM548 401h1v1h-1zM68 402h1v1h-1zM548 402h1v1h-1zM68 403h1v1h-1zM548 403h1v1h-1zM68 404h1v1h-1zM548 404h1v1h-1zM68 405h1v1h-1zM548 405h1v1h-1zM68 406h1v1h-1zM548 406h1v1h-1zM68 407h1v1h-1zM548 407h1v1h-1zM68 408h1v1h-1zM548 408h1v1h-1zM68 409h1v1h-1zM548 409h1v1h-1zM68 410h1v1h-1zM548 410h1v1h-1zM68 411h1v1h-1zM548 411h1v1h-1zM68 412h1v1h-1zM548 412h1v1h-1zM68 413h1v1h-1zM548 413h1v1h-1zM68 414h1v1h-1zM548 414h1v1h-1zM68 415h1v1h-1zM548 415h1v1h-1zM68 416h1v1h-1zM548 416h1v1h-1zM68 417h1v1h-1zM548 417h1v1h-1zM68 418h1v1h-1zM548 418h1v1h-1zM64 419h5v1h-5zM548 419h1v1h-1zM68 420h1v1h-1zM548 420h1v1h-1zM68 421h1v1h-1zM548 421h1v1h-1zM68 422h1v1h-1zM548 422h1v1h-1zM68 423h1v1h-1zM548 423h1v1h-1zM68 424h1v1h-1zM548 424h1v1h-1zM68 425h1v1h-1zM548 425h1v1h-1zM68 426h1v1h-1zM548 426h1v1h-1zM68 427h485v1h-485zM100 428h1v1h-1zM164 428h1v1h-1zM228 428h1v1h-1zM292 428h1v1h-1zM356 428h1v1h-1zM420 428h1v1h-1zM484 428h1v1h-1zM548 428h1v1h-1zM100 429h1v1h-1zM164 429h1v1h-1zM228 429h1v1h-1zM292 429h1v1h-1zM356 429h1v1h-1zM420 429h1v1h-1zM484 429h1v1h-1zM548 429h1v1h-1zM100 430h1v1h-1zM164 430h1v1h-1zM228 430h1v1h-1zM292 430h1v1h-1zM356 430h1v1h-1zM420 430h1v1h-1zM484 430h1v1h-1zM548 430h1v1h-1zM100 431h1v1h-1zM164 431h1v1h-1zM228 431h1v1h-1zM292 431h1v1h-1zM356 431h1v1h-1zM420 431h1v1h-1zM484 431h1v1h-1zM548 431h1v1h-1z"/>
</g>
<g class="t">
<text x="55" y="423" text-anchor="end">0</text>
<text x="55" y="381" text-anchor="end">5</text>
<text x="55" y="339" text-anchor="end">10</text>
<text x="55" y="296" text-anchor="end">15</text>
<text x="55" y="254" text-anchor="end">20</text>
<text x="55" y="212" text-anchor="end">25</text>
<text x="55" y="170" text-anchor="end">30</text>
<text x="55" y="128" text-anchor="end">35</text>
<text x="55" y="86" text-anchor="end">40</text>
<text x="55" y="44" text-anchor="end">45</text>
<text x="564.8" y="356" text-anchor="start">0</text>
<text x="564.8" y="281" text-anchor="start">10</text>
<text x="564.8" y="206" text-anchor="start">20</text>
<text x="564.8" y="131" text-anchor="start">30</text>
<text x="564.8" y="56" text-anchor="start">40</text>
<text x="561.1" y="431" text-anchor="start" textLength="22.6" lengthAdjust="spacingAndGlyphs">-10</text>
<text x="101.5" y="450" text-anchor="middle">6</text>
<text x="165.5" y="450" text-anchor="middle">8</text>
<text x="229.4" y="450" text-anchor="middle" dx="0.45 -0.45">10</text>
<text x="294.1" y="450" text-anchor="middle">12</text>
<text x="358.1" y="450" text-anchor="middle">14</text>
<text x="422.1" y="450" text-anchor="middle">16</text>
<text x="486.1" y="450" text-anchor="middle">18</text>
<text x="550.1" y="450" text-anchor="middle">20</text>
<text x="74" y="414" text-anchor="start">1</text>
<text x="74" y="389" text-anchor="start">2</text>
<text x="74" y="364" text-anchor="start">3</text>
<text x="74" y="330" text-anchor="start">4</text>
<text x="74" y="280" text-anchor="start">5</text>
<text x="74" y="238" text-anchor="start">6</text>
<text x="74" y="187" text-anchor="start">7</text>
<text x="74" y="137" text-anchor="start">8</text>
<text x="74" y="78" text-anchor="start">9</text>
<text x="547.4" y="406" text-anchor="end" textLength="16.6" lengthAdjust="spacingAndGlyphs">20</text>
<text x="547.7" y="323" text-anchor="end" textLength="16.6" lengthAdjust="spacingAndGlyphs">40</text>
<text x="547.7" y="240" text-anchor="end" textLength="16.6" lengthAdjust="spacingAndGlyphs">60</text>
<text x="547.7" y="156" text-anchor="end" textLength="16.6" lengthAdjust="spacingAndGlyphs">80</text>
<text x="547.7" y="73" text-anchor="end" textLength="25.8" lengthAdjust="spacingAndGlyphs">100</text>
<text x="481" y="30.5" text-anchor="end" textLength="233.1">Wind speed, gusts, and direction</text>
<text x="482" y="45.5" text-anchor="end">Pressure</text>
<text x="481" y="60.5" text-anchor="end">Temperature</text>
<text x="308" y="472" text-anchor="middle" textLength="194.8">Local time (America/Aruba)</text>
<text x="17" y="222.5" text-anchor="middle" transform="rotate(-90 17 222.5)">Wind speed (kn - Beaufort)</text>
<text x="607" y="221" text-anchor="middle" transform="rotate(-90 607 221)">Temperature (C - F)</text>
</g>
</svg>
</body></html>
